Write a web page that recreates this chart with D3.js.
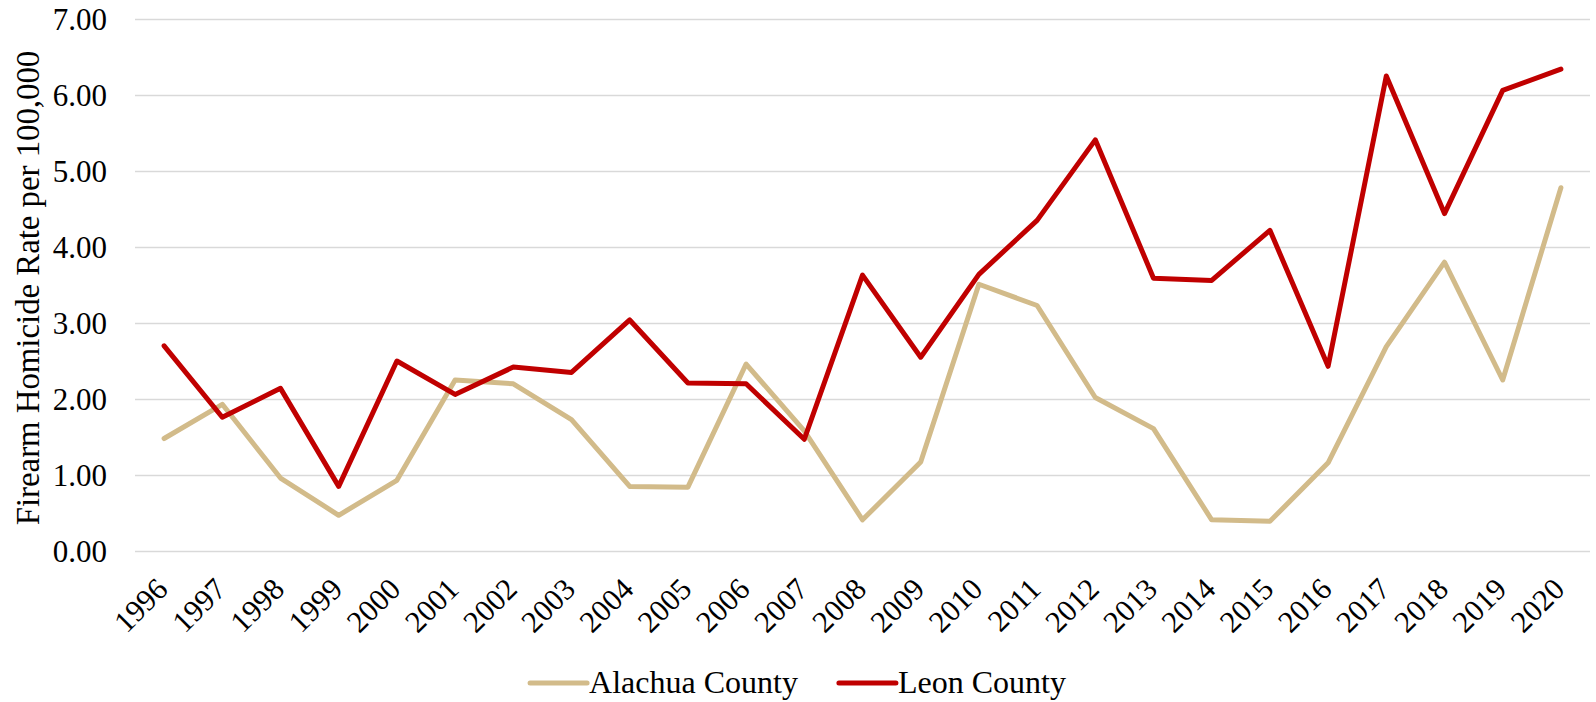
<!DOCTYPE html>
<html>
<head>
<meta charset="utf-8">
<script src="https://cdn.jsdelivr.net/npm/d3@7"></script>
<style>
  body { margin: 0; background: #fff; }
  svg text { font-family: "Liberation Serif", "Times New Roman", serif; fill: #000; }
</style>
</head>
<body>
<div id="chart"></div>
<script>
// chart size
const FRAME_WIDTH = 1596;
const FRAME_HEIGHT = 702;
const MARGINS = {left: 135, right: 6, top: 19, bottom: 151};

const VIS_WIDTH = FRAME_WIDTH - MARGINS.left - MARGINS.right;
const VIS_HEIGHT = FRAME_HEIGHT - MARGINS.top - MARGINS.bottom;

// data
const YEARS = ["1996", "1997", "1998", "1999", "2000", "2001", "2002", "2003", "2004",
               "2005", "2006", "2007", "2008", "2009", "2010", "2011", "2012", "2013",
               "2014", "2015", "2016", "2017", "2018", "2019", "2020"];
const ALACHUA = [1.48, 1.93, 0.96, 0.47, 0.93, 2.25, 2.20, 1.73, 0.85, 0.84, 2.46, 1.58, 0.41,
                 1.17, 3.51, 3.23, 2.02, 1.61, 0.41, 0.39, 1.16, 2.69, 3.80, 2.25, 4.78];
const LEON = [2.70, 1.76, 2.14, 0.85, 2.50, 2.06, 2.42, 2.35, 3.04, 2.21, 2.20, 1.47, 3.63,
              2.55, 3.64, 4.35, 5.41, 3.59, 3.56, 4.22, 2.43, 6.25, 4.44, 6.06, 6.34];
const Y_TICKS = [0, 1, 2, 3, 4, 5, 6, 7];
const SERIES_NAMES = ["Alachua County", "Leon County"];
const SERIES_COLORS = ["#D2BB8A", "#C00000"];
const Y_TITLE = "Firearm Homicide Rate per 100,000";

const FRAME = d3.select("#chart")
                .append("svg")
                  .attr("width", FRAME_WIDTH)
                  .attr("height", FRAME_HEIGHT);

// scales
const X_SCALE = d3.scalePoint()
                  .domain(YEARS)
                  .range([0, VIS_WIDTH])
                  .padding(0.5);

const Y_SCALE = d3.scaleLinear()
                  .domain([0, 7])
                  .range([VIS_HEIGHT, 0]);

const G = FRAME.append("g")
               .attr("transform", "translate(" + MARGINS.left + "," + MARGINS.top + ")");

// gridlines
G.append("g")
  .call(d3.axisLeft(Y_SCALE).tickValues(Y_TICKS).tickSize(-VIS_WIDTH).tickFormat(""))
  .call(g => g.select(".domain").remove())
  .selectAll("line")
    .attr("stroke", "#D9D9D9")
    .attr("stroke-width", 1.4);

// y tick labels
G.append("g")
  .call(d3.axisLeft(Y_SCALE).tickValues(Y_TICKS).tickSize(0).tickPadding(28)
          .tickFormat(d => d3.format(".2f")(d)))
  .call(g => g.select(".domain").remove())
  .selectAll("text")
    .attr("font-size", 31)
    .attr("dy", "0.34em");

// x tick labels, rotated
const xAxis = G.append("g")
  .attr("transform", "translate(0," + VIS_HEIGHT + ")")
  .call(d3.axisBottom(X_SCALE).tickSize(0))
  .call(g => g.select(".domain").remove());

xAxis.selectAll("text")
  .attr("font-size", 30.5)
  .attr("text-anchor", "end")
  .attr("y", 0)
  .attr("dy", 0)
  .attr("transform", "translate(5,40) rotate(-45)");

// y axis title
FRAME.append("text")
  .attr("transform", "translate(39," + (MARGINS.top + VIS_HEIGHT / 2 + 3) + ") rotate(-90)")
  .attr("text-anchor", "middle")
  .attr("font-size", 32.8)
  .text(Y_TITLE);

// lines
const line = d3.line()
               .x((d, i) => X_SCALE(YEARS[i]))
               .y(d => Y_SCALE(d));

[ALACHUA, LEON].forEach((vals, i) => {
  G.append("path")
    .datum(vals)
    .attr("fill", "none")
    .attr("stroke", SERIES_COLORS[i])
    .attr("stroke-width", 5)
    .attr("stroke-linejoin", "round")
    .attr("stroke-linecap", "round")
    .attr("d", line);
});

// legend, centred under the chart
const LEG_Y = 683;
const legend = FRAME.append("g");
let x = 0;
SERIES_NAMES.forEach((name, i) => {
  const item = legend.append("g").attr("transform", "translate(" + x + ",0)");
  item.append("line")
    .attr("x1", 0).attr("x2", 57)
    .attr("y1", LEG_Y).attr("y2", LEG_Y)
    .attr("stroke", SERIES_COLORS[i])
    .attr("stroke-width", 5)
    .attr("stroke-linecap", "round");
  const t = item.append("text")
    .attr("x", 59)
    .attr("y", LEG_Y + 10)
    .attr("font-size", 32)
    .text(name);
  x += 59 + t.node().getComputedTextLength() + 41;
});
const legW = x - 41;
legend.attr("transform", "translate(" + (FRAME_WIDTH / 2 - legW / 2) + ",0)");
</script>
</body>
</html>
